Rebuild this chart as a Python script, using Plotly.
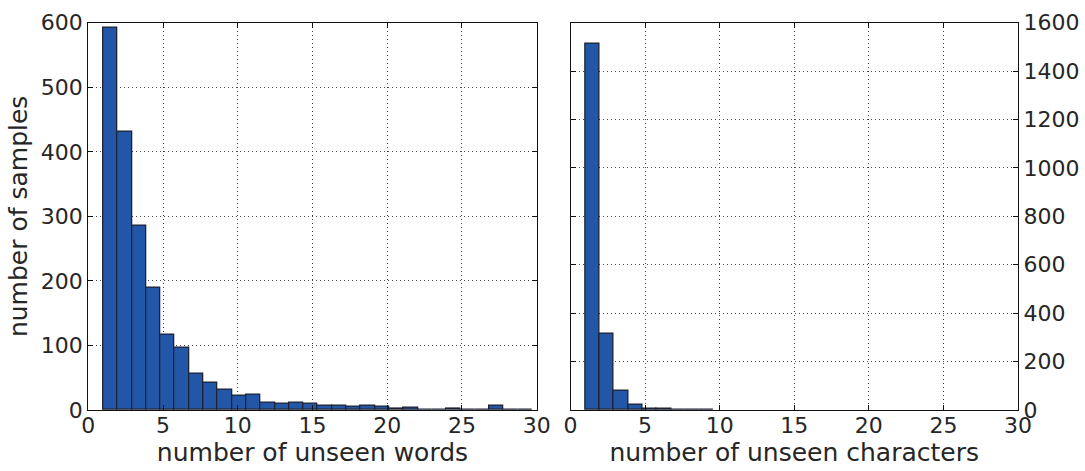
import numpy as np
import plotly.graph_objects as go
from plotly.subplots import make_subplots

# Histogram counts per bin (30 bins spanning the observed range)
word_counts = [593, 431, 285, 189, 117, 97, 57, 42, 31, 22,
               23, 12, 9, 12, 10, 7, 6, 5, 6, 5,
               2, 3, 1, 1, 2, 1, 1, 6, 0, 1]
# only the first bins hold any character samples
char_counts = [1515, 317, 80, 21, 5, 5, 2, 1, 1]

bin_lo, bin_hi, n_bins = 1.0, 29.7, 30
edges = np.linspace(bin_lo, bin_hi, n_bins + 1)
centers = (edges[:-1] + edges[1:]) / 2
widths = np.diff(edges)

x_ticks = [0, 5, 10, 15, 20, 25, 30]
y_ticks_words = [0, 100, 200, 300, 400, 500, 600]
y_ticks_chars = [0, 200, 400, 600, 800, 1000, 1200, 1400, 1600]

BAR = "#2256a6"
EDGE = "#1f2230"
FONT = "DejaVu Sans"
TXT = "#262626"

fig = make_subplots(rows=1, cols=2)

fig.add_trace(go.Bar(x=centers, y=word_counts, width=widths,
                     marker=dict(color=BAR, line=dict(color=EDGE, width=1.3)),
                     showlegend=False), row=1, col=1)
nc = len(char_counts)
fig.add_trace(go.Bar(x=centers[:nc], y=char_counts, width=widths[:nc],
                     marker=dict(color=BAR, line=dict(color=EDGE, width=1.3)),
                     showlegend=False), row=1, col=2)

W, H = 1085, 471
xd1 = [88.3 / W, 536.7 / W]
xd2 = [570.5 / W, 1018.0 / W]
yd = [1 - 410.0 / H, 1 - 22.7 / H]

axis_common = dict(
    automargin=False,
    showline=True, linecolor="#111111", linewidth=1.2, mirror="ticks",
    ticks="inside", ticklen=5, tickcolor="#111111", tickwidth=1,
    showgrid=True, gridcolor="#444444", griddash="1px,3px", gridwidth=1,
    zeroline=False,
    tickfont=dict(family=FONT, size=22, color=TXT),
)

fig.update_xaxes(**axis_common)
fig.update_yaxes(**axis_common)

fig.update_layout(
    xaxis=dict(domain=xd1, range=[0, 30], tickvals=x_ticks, ticklabelstandoff=-5,
               title=dict(text="number of unseen words", standoff=4,
                          font=dict(family=FONT, size=25, color=TXT))),
    xaxis2=dict(domain=xd2, range=[0, 30], tickvals=x_ticks, ticklabelstandoff=-5,
                title=dict(text="number of unseen characters", standoff=4,
                           font=dict(family=FONT, size=25, color=TXT))),
    yaxis=dict(domain=yd, range=[0, 600], tickvals=y_ticks_words,
               title=dict(text="number of samples", standoff=6,
                          font=dict(family=FONT, size=25, color=TXT))),
    yaxis2=dict(domain=yd, range=[0, 1600], tickvals=y_ticks_chars,
                side="right"),
    width=W, height=H,
    margin=dict(l=0, r=0, t=0, b=0),
    paper_bgcolor="white", plot_bgcolor="white",
    bargap=0,
)

fig.write_html("out.html")
